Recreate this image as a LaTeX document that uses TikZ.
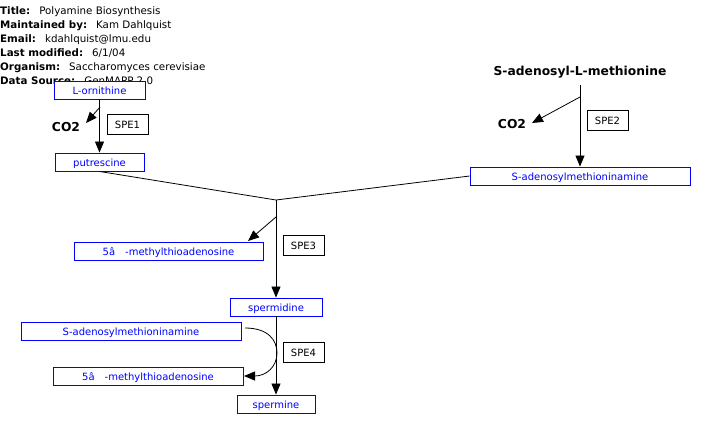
\documentclass[tikz,border=0pt]{standalone}
\usepackage{fontspec}
\setmainfont{DejaVu Sans}
\usetikzlibrary{arrows.meta}
\begin{document}
\begin{tikzpicture}[x=1pt,y=-1pt,
  hdr/.style={anchor=base west,inner sep=0pt,font=\fontsize{10.3}{12}\selectfont},
  mol/.style={draw=blue,fill=white,text=blue,line width=0.9pt,inner sep=0pt,minimum height=18pt,text height=9pt,text depth=1pt,font=\fontsize{10}{12}\selectfont},
  enz/.style={draw=black,fill=white,line width=0.7pt,inner sep=0pt,minimum width=41pt,minimum height=20pt,text height=9pt,text depth=1pt,font=\fontsize{10}{12}\selectfont},
  bigl/.style={inner sep=0pt,font=\fontsize{12.3}{14}\selectfont\bfseries},
  conn/.style={line width=0.8pt,black},
  arr/.style={conn,-{Triangle[length=11pt,width=9pt]}}]
\useasboundingbox (0,0) rectangle (706,429);
% header
\node[hdr] (h1) at (0,14.5) {\textbf{Title:}\hspace{9pt}Polyamine Biosynthesis};
\node[hdr] (h2) at (0,28.5) {\textbf{Maintained by:}\hspace{9pt}Kam Dahlquist};
\node[hdr] (h3) at (0,42.5) {\textbf{Email:}\hspace{9pt}kdahlquist@lmu.edu};
\node[hdr] (h4) at (0,56.5) {\textbf{Last modified:}\hspace{9pt}6/1/04};
\node[hdr] (h5) at (0,70.5) {\textbf{Organism:}\hspace{9pt}Saccharomyces cerevisiae};
\node[hdr] (h6) at (0,84.5) {\textbf{Data Source:}\hspace{9pt}GenMAPP 2.0};
% molecules
\node[mol,minimum width=91pt] (orn) at (99.5,90) {L-ornithine};
\node[mol,minimum width=89pt] (put) at (99.5,162) {putrescine};
\node[mol,minimum width=220pt] (samR) at (580,176) {S-adenosylmethioninamine};
\node[mol,minimum width=189pt] (mta1) at (168.5,251) {5â\hspace{10pt}-methylthioadenosine};
\node[mol,minimum width=92pt] (spd) at (276,307) {spermidine};
\node[mol,minimum width=220pt] (samL) at (131,331) {S-adenosylmethioninamine};
\node[mol,minimum width=190pt] (mta2) at (148,376) {5â\hspace{10pt}-methylthioadenosine};
\node[mol,minimum width=78pt] (spm) at (276,404) {spermine};
% labels
\node[bigl] (sam) at (580,72) {S-adenosyl-L-methionine};
\node[bigl] (co2a) at (66,127) {CO2};
\node[bigl] (co2b) at (512,124) {CO2};
% enzymes
\node[enz] (spe1) at (127.5,124) {SPE1};
\node[enz] (spe2) at (607.5,120.5) {SPE2};
\node[enz] (spe3) at (303.5,245) {SPE3};
\node[enz] (spe4) at (303.5,352) {SPE4};
% connectors
\coordinate (b1) at (100,107);
\coordinate (e1) at (86,123);
\coordinate (b2) at (580,97);
\coordinate (e2) at (532,123);
\coordinate (j) at (276,200);
\coordinate (b3) at (276,217);
\coordinate (e3) at (248,241);
\coordinate (cs) at (245,328);
\coordinate (ce) at (244,376);
\draw[arr] (orn.south) -- (put.north);
\draw[arr] (b1) -- (e1);
\draw[arr] (580,85) -- (samR.north);
\draw[arr] (b2) -- (e2);
\draw[conn] (put.south) -- (j) -- (samR.west);
\draw[arr] (j) -- (spd.north);
\draw[arr] (b3) -- (e3);
\draw[arr] (spd.south) -- (spm.north);
\draw[arr] (cs) .. controls (268,328) and (277,340) .. (277,353) .. controls (277,367) and (266,376) .. (ce);
\end{tikzpicture}
\end{document}
